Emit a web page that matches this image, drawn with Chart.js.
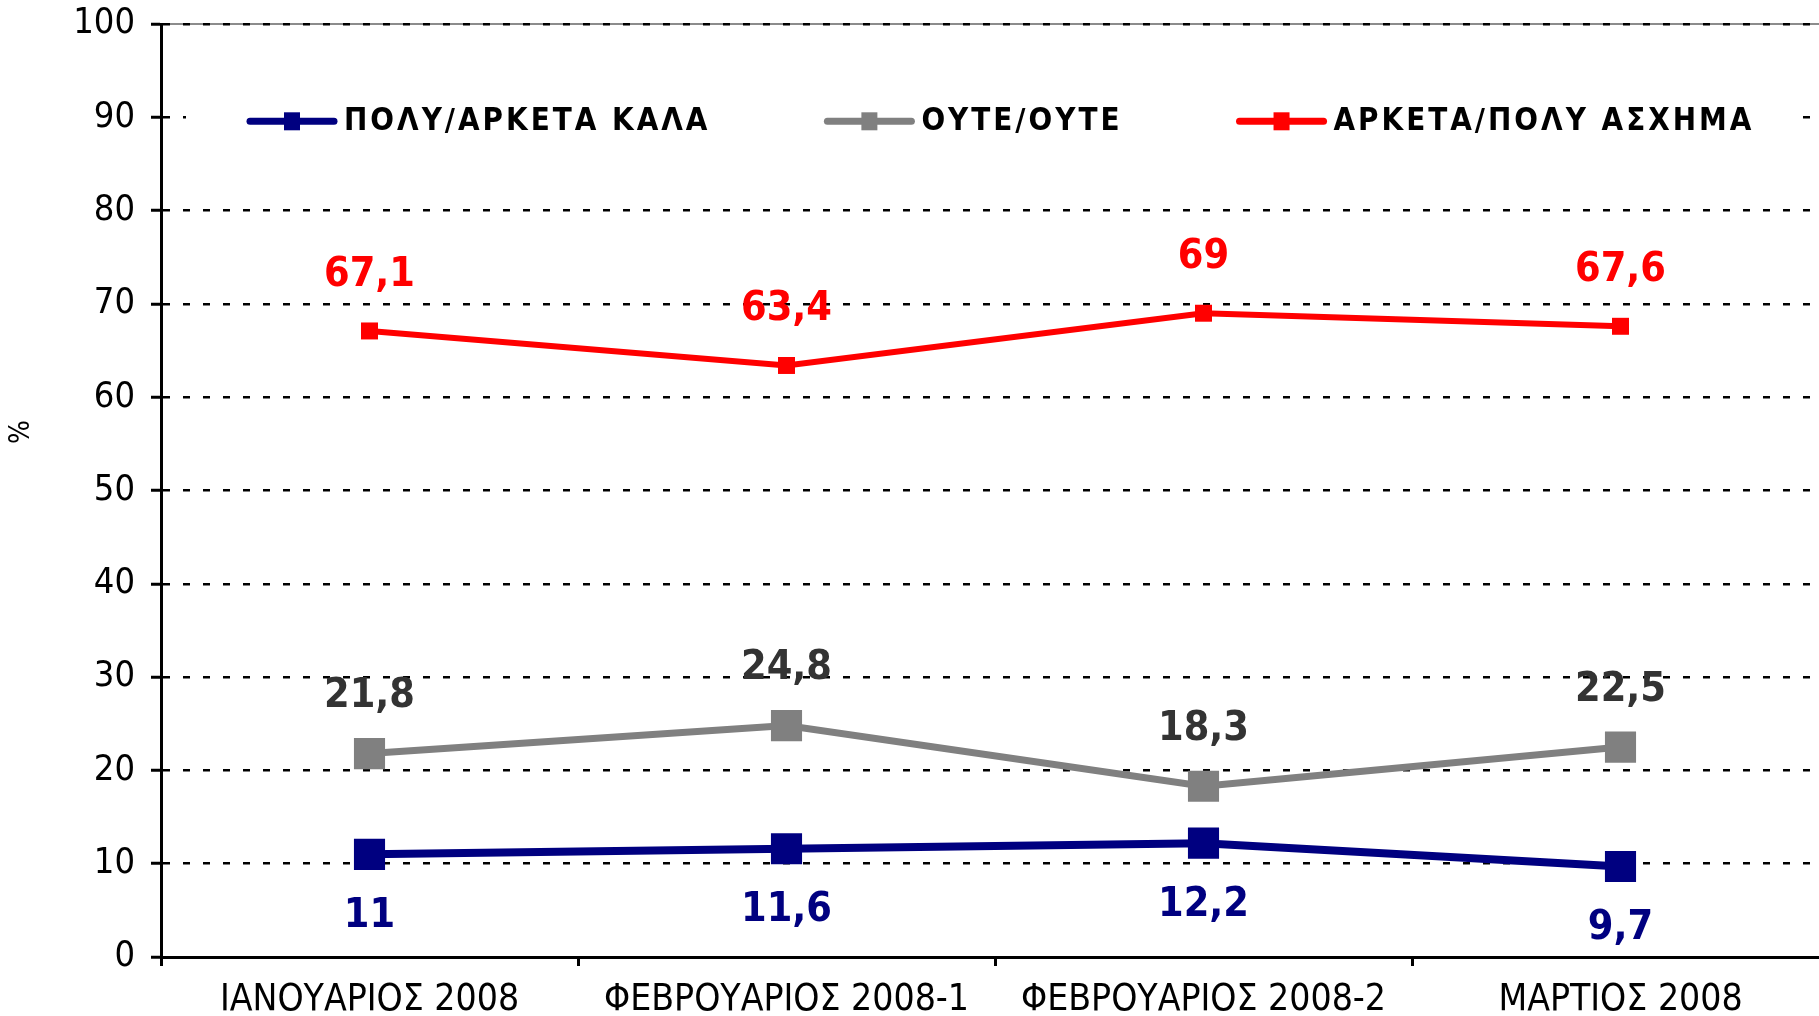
<!DOCTYPE html>
<html><head><meta charset="utf-8">
<script src="https://cdn.jsdelivr.net/npm/chart.js@4.4.1/dist/chart.umd.min.js"></script>
<style>html,body{margin:0;padding:0;background:#fff;overflow:hidden;width:1819px;height:1016px}
#wrap{position:absolute;left:0;top:0;width:1851px;height:1016px}</style>
</head><body><div id="wrap"><canvas id="c" width="1851" height="1016"></canvas></div>
<script>
const categories = ['ΙΑΝΟΥΑΡΙΟΣ 2008', 'ΦΕΒΡΟΥΑΡΙΟΣ 2008-1', 'ΦΕΒΡΟΥΑΡΙΟΣ 2008-2', 'ΜΑΡΤΙΟΣ 2008'];
const seriesNames = ['ΠΟΛΥ/ΑΡΚΕΤΑ ΚΑΛΑ', 'ΟΥΤΕ/ΟΥΤΕ', 'ΑΡΚΕΤΑ/ΠΟΛΥ ΑΣΧΗΜΑ'];
const goodValues = [11, 11.6, 12.2, 9.7];
const neutralValues = [21.8, 24.8, 18.3, 22.5];
const badValues = [67.1, 63.4, 69, 67.6];
const yMin = 0, yMax = 100, yStep = 10;
const yAxisTitle = '%';

const COND = "'DejaVu Sans Condensed', 'DejaVu Sans', sans-serif";
const fmt = v => String(v).replace('.', ',');

const labelOffsets = [62, -57, -56];
const labelColors = ['#000080', '#333333', '#FF0000'];

const dataLabels = {
  id: 'dataLabels',
  afterDatasetsDraw(chart) {
    const ctx = chart.ctx;
    ctx.save();
    ctx.font = "bold 41px " + COND;
    ctx.textAlign = 'center';
    ctx.textBaseline = 'middle';
    chart.data.datasets.forEach((ds, i) => {
      const meta = chart.getDatasetMeta(i);
      ctx.fillStyle = labelColors[i];
      meta.data.forEach((pt, j) => {
        ctx.fillText(fmt(ds.data[j]), pt.x, pt.y + labelOffsets[i]);
      });
    });
    ctx.restore();
  }
};

const customLegend = {
  id: 'customLegend',
  beforeDraw(chart) {
    const ctx = chart.ctx, a = chart.chartArea;
    ctx.save();
    ctx.strokeStyle = '#8c8c8c';
    ctx.lineWidth = 2;
    ctx.beginPath(); ctx.moveTo(a.left, a.top); ctx.lineTo(a.right, a.top); ctx.stroke();
    ctx.restore();
  },
  beforeDatasetsDraw(chart) {
    const ctx = chart.ctx, a = chart.chartArea;
    const yScale = chart.scales.y;
    const cy = yScale.getPixelForValue(90) + 4;
    ctx.save();
    ctx.fillStyle = '#fff';
    ctx.fillRect(a.left + 25, cy - 26, 1614, 52);
    ctx.font = "bold 31px " + COND;
    ctx.letterSpacing = '3px';
    ctx.textBaseline = 'middle';
    const sample = 90, gap = 7, between = 114;
    const widths = chart.data.datasets.map(ds => ctx.measureText(ds.label).width);
    let x = a.left + 86;
    chart.data.datasets.forEach((ds, i) => {
      ctx.strokeStyle = ds.borderColor;
      ctx.lineWidth = 7;
      ctx.lineCap = 'round';
      ctx.beginPath(); ctx.moveTo(x + 3, cy); ctx.lineTo(x + sample - 3, cy); ctx.stroke();
      ctx.fillStyle = ds.borderColor;
      ctx.fillRect(x + sample / 2 - 8, cy - 9, 16, 18);
      ctx.fillStyle = '#000';
      ctx.fillText(ds.label, x + sample + gap, cy + 1);
      x += sample + gap + widths[i] + between;
    });
    ctx.restore();
  },
  afterDraw(chart) {
    const ctx = chart.ctx;
    ctx.save();
    ctx.translate(22, 432);
    ctx.rotate(-Math.PI / 2);
    ctx.font = "28px " + COND;
    ctx.fillStyle = '#000';
    ctx.textAlign = 'center';
    ctx.textBaseline = 'middle';
    ctx.fillText(yAxisTitle, 0, 0);
    ctx.restore();
  }
};

new Chart(document.getElementById('c'), {
  type: 'line',
  data: {
    labels: categories,
    datasets: [
      { label: seriesNames[0], data: goodValues, borderColor: '#000080', backgroundColor: '#000080',
        borderWidth: 8, pointStyle: 'rect', pointRadius: 22, pointHoverRadius: 22, pointBorderWidth: 0 },
      { label: seriesNames[1], data: neutralValues, borderColor: '#808080', backgroundColor: '#808080',
        borderWidth: 7, pointStyle: 'rect', pointRadius: 22, pointHoverRadius: 22, pointBorderWidth: 0 },
      { label: seriesNames[2], data: badValues, borderColor: '#FF0000', backgroundColor: '#FF0000',
        borderWidth: 6, pointStyle: 'rect', pointRadius: 12, pointHoverRadius: 12, pointBorderWidth: 0 }
    ]
  },
  options: {
    responsive: false,
    devicePixelRatio: 1,
    animation: false,
    layout: { padding: { left: 0, top: 24, right: 6, bottom: 0 } },
    plugins: { legend: { display: false }, tooltip: { enabled: false } },
    scales: {
      x: {
        offset: true,
        grid: { display: true, drawOnChartArea: false, offset: true, tickLength: 9, tickWidth: 3, tickColor: '#000' },
        border: { display: true, width: 3, color: '#000' },
        ticks: { color: '#000', font: { family: COND, size: 37 }, padding: 12, maxRotation: 0, autoSkip: false },
        afterFit(s) { s.height = 59; s.paddingLeft = 0; s.paddingRight = 0; }
      },
      y: {
        min: yMin, max: yMax,
        grid: { color: '#000', lineWidth: 2.5, tickLength: 10, tickWidth: 3, tickColor: '#000', tickBorderDash: [] },
        border: { display: true, width: 3, color: '#000', dash: [7, 13] },
        ticks: { stepSize: yStep, color: '#000', font: { family: COND, size: 36 }, padding: 16 },
        afterFit(s) { s.width = 161; s.paddingTop = 0; s.paddingBottom = 0; }
      }
    }
  },
  plugins: [dataLabels, customLegend]
});
</script></body></html>
